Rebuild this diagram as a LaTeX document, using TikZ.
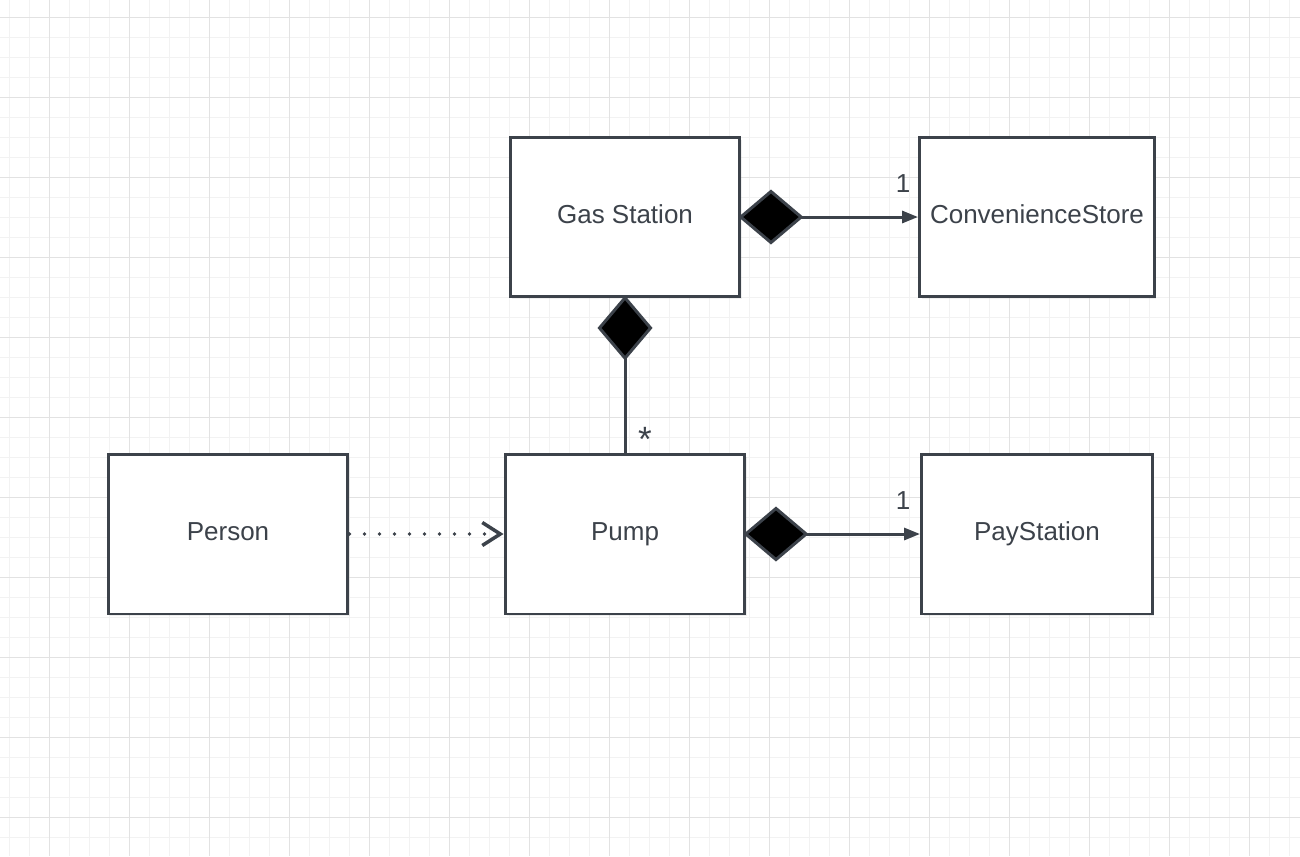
\documentclass[tikz,border=0pt]{standalone}
\usepackage{fontspec}
\setmainfont{Liberation Sans}
\usetikzlibrary{arrows.meta, positioning, shadows}
\definecolor{umlgray}{RGB}{60,66,74}
\definecolor{gridminor}{RGB}{242,242,242}
\definecolor{gridmajor}{RGB}{226,226,226}
\tikzset{
  cls/.style   = {draw=umlgray, line width=1.7pt, fill=white, text=umlgray,
                  minimum width=4.7cm, minimum height=3.2cm, inner sep=2pt,
                  text height=10.6pt, text depth=3pt,
                  font=\fontsize{14.8}{18}\selectfont,
                  drop shadow={opacity=0.12, shadow xshift=0.04cm, shadow yshift=-0.05cm}},
  link/.style  = {draw=umlgray, line width=1.7pt},
  comp/.style  = {link, {Diamond[length=1.3cm, width=1.1cm, fill=black, line join=miter, sep=-0.06cm]}-},
  compto/.style= {link, {Diamond[length=1.3cm, width=1.1cm, fill=black, line join=miter, sep=-0.06cm]}-{Triangle[length=0.32cm, width=0.24cm]}},
  dep/.style   = {draw=umlgray, line width=2.2pt, line cap=round, dash pattern=on 0pt off 0.3cm,
                  -{Straight Barb[length=0.36cm, width=0.46cm, line width=2pt]}},
  mult/.style  = {text=umlgray, inner sep=0pt, font=\fontsize{14.8}{18}\selectfont},
}
\begin{document}
\begin{tikzpicture}[x=0.02cm, y=-0.02cm]
  % background and grid
  \fill[white] (0,0) rectangle (1300,856);
  \useasboundingbox (0,0) rectangle (1300,856);
  \foreach \gx in {9,29,...,1300} \draw[gridminor, line width=0.5pt] (\gx,0) -- (\gx,856);
  \foreach \gy in {17,37,...,856} \draw[gridminor, line width=0.5pt] (0,\gy) -- (1300,\gy);
  \foreach \gx in {49,129,...,1300} \draw[gridmajor, line width=0.5pt] (\gx,0) -- (\gx,856);
  \foreach \gy in {17,97,...,856} \draw[gridmajor, line width=0.5pt] (0,\gy) -- (1300,\gy);
  % classes
  \node[cls, minimum width=4.6cm] (gas) at (625,217) {Gas Station};
  \node[cls] (store) at (1037,217) {ConvenienceStore};
  \node[cls, minimum width=4.8cm] (person) at (228,534) {Person};
  \node[cls, minimum width=4.8cm] (pump) at (625,534) {Pump};
  \node[cls, minimum width=4.62cm] (pay) at (1037,534) {PayStation};
  % relations
  \draw[compto] (gas.east) -- (store.west);
  \draw[comp] (gas.south) -- (pump.north);
  \draw[compto] (pump.east) -- (pay.west);
  \draw[dep] (person.east) -- (pump.west);
  % multiplicities
  \node[mult] (mstore) at (903,184) {1};
  \node[mult] (mpay) at (903,501) {1};
  \node[mult, font=\fontsize{20}{24}\selectfont] (mpump) at (645,439) {*};
\end{tikzpicture}
\end{document}
